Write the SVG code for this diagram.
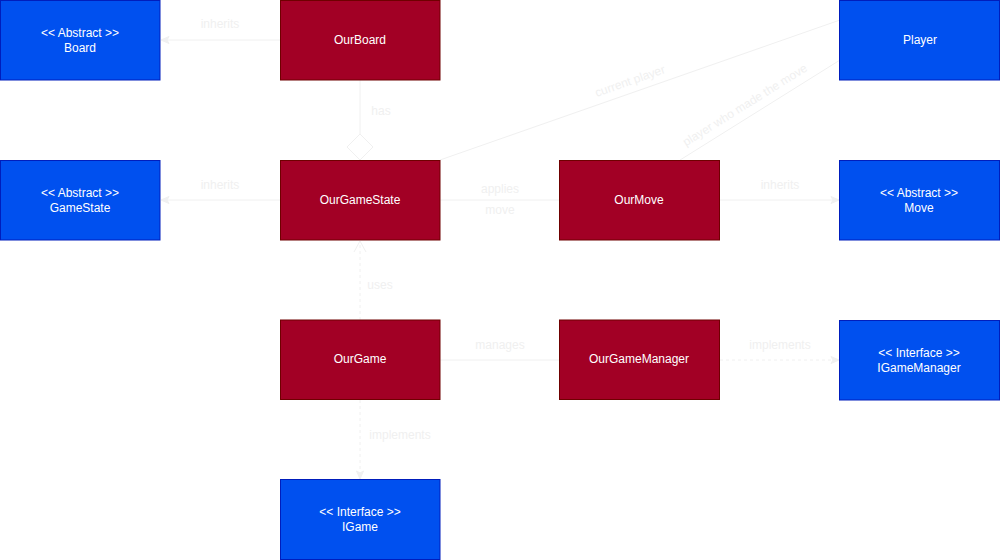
<svg xmlns="http://www.w3.org/2000/svg" width="1000" height="560" viewBox="0 0 1000 560">
<style>
.red{fill:#a20025;stroke:#6f0000;stroke-width:1}
.blue{fill:#0050ef;stroke:#001dbc;stroke-width:1}
.nt{font-family:"Liberation Sans",Arial,sans-serif;font-size:12px;fill:#ffffff;text-anchor:middle}
.e{stroke:#f0f0f0;stroke-width:1;fill:none}
.d{stroke-dasharray:3 3}
.lb{font-family:"Liberation Sans",Arial,sans-serif;font-size:12px;fill:#f0f0f0;text-anchor:middle}
</style>
<defs>
<marker id="cls" markerWidth="10" markerHeight="10" viewBox="0 0 10 10" refX="9" refY="5" orient="auto" markerUnits="userSpaceOnUse">
<path d="M1,1.5 L9,5 L1,8.5 L3,5 Z" fill="#f0f0f0" stroke="#f0f0f0" stroke-width="1"/>
</marker>
<marker id="open" markerWidth="14" markerHeight="14" viewBox="0 0 14 14" refX="13" refY="7" orient="auto" markerUnits="userSpaceOnUse">
<path d="M2,1 L13,7 L2,13" fill="none" stroke="#f0f0f0" stroke-width="1"/>
</marker>
</defs>
<rect width="1000" height="560" fill="#ffffff"/>
<g id="connectors">
<line class="e" x1="280" y1="40" x2="161" y2="40" marker-end="url(#cls)"/>
<line class="e" x1="360" y1="80" x2="360" y2="134"/>
<polygon points="360,160 373,147 360,134 347,147" fill="#ffffff" stroke="#f0f0f0" stroke-width="1"/>
<line class="e" x1="280" y1="200" x2="161" y2="200" marker-end="url(#cls)"/>
<line class="e" x1="440" y1="160" x2="840" y2="20"/>
<line class="e" x1="680" y1="160" x2="840" y2="60"/>
<line class="e" x1="440" y1="200" x2="560" y2="200"/>
<line class="e" x1="720" y1="200" x2="839" y2="200" marker-end="url(#cls)"/>
<line class="e d" x1="360" y1="320" x2="360" y2="241" marker-end="url(#open)"/>
<line class="e" x1="440" y1="360" x2="560" y2="360"/>
<line class="e d" x1="720" y1="360" x2="839" y2="360" marker-end="url(#cls)"/>
<line class="e d" x1="360" y1="400" x2="360" y2="479" marker-end="url(#cls)"/>
<text class="lb" x="220" y="28">inherits</text>
<text class="lb" x="381" y="115">has</text>
<text class="lb" x="220" y="189">inherits</text>
<text class="lb" x="630" y="85" transform="rotate(-19.3 630 81)">current player</text>
<text class="lb" x="745" y="109" transform="rotate(-32 745 105)">player who made the move</text>
<text class="lb" x="500" y="193">applies</text>
<text class="lb" x="500" y="214">move</text>
<text class="lb" x="780" y="189">inherits</text>
<text class="lb" x="380" y="289">uses</text>
<text class="lb" x="500" y="349">manages</text>
<text class="lb" x="780" y="349">implements</text>
<text class="lb" x="400" y="439">implements</text>
</g>
<g id="Board"><rect class="blue" x="0.5" y="0.5" width="159.5" height="79.5"/><text class="nt" x="80" y="37">&lt;&lt; Abstract &gt;&gt;</text><text class="nt" x="80" y="52">Board</text></g>
<g id="OurBoard"><rect class="red" x="280.5" y="0.5" width="159.5" height="79.5"/><text class="nt" x="360" y="44">OurBoard</text></g>
<g id="Player"><rect class="blue" x="839.5" y="0.5" width="160" height="79.5"/><text class="nt" x="920" y="44">Player</text></g>
<g id="GameState"><rect class="blue" x="0.5" y="160.5" width="159.5" height="79.5"/><text class="nt" x="80" y="197">&lt;&lt; Abstract &gt;&gt;</text><text class="nt" x="80" y="212">GameState</text></g>
<g id="OurGameState"><rect class="red" x="280.5" y="160.5" width="159.5" height="79.5"/><text class="nt" x="360" y="204">OurGameState</text></g>
<g id="OurMove"><rect class="red" x="559.5" y="160.5" width="160" height="79.5"/><text class="nt" x="639" y="204">OurMove</text></g>
<g id="Move"><rect class="blue" x="839.5" y="160.5" width="160" height="79.5"/><text class="nt" x="919" y="197">&lt;&lt; Abstract &gt;&gt;</text><text class="nt" x="919" y="212">Move</text></g>
<g id="OurGame"><rect class="red" x="280.5" y="320" width="159.5" height="79.5"/><text class="nt" x="360" y="363">OurGame</text></g>
<g id="OurGameManager"><rect class="red" x="559.5" y="320" width="160" height="79.5"/><text class="nt" x="639" y="363">OurGameManager</text></g>
<g id="IGameManager"><rect class="blue" x="839.5" y="320.5" width="160" height="79.5"/><text class="nt" x="919" y="357">&lt;&lt; Interface &gt;&gt;</text><text class="nt" x="919" y="372">IGameManager</text></g>
<g id="IGame"><rect class="blue" x="280.5" y="479.5" width="159.5" height="80"/><text class="nt" x="360" y="516">&lt;&lt; Interface &gt;&gt;</text><text class="nt" x="360" y="531">IGame</text></g>
</svg>
